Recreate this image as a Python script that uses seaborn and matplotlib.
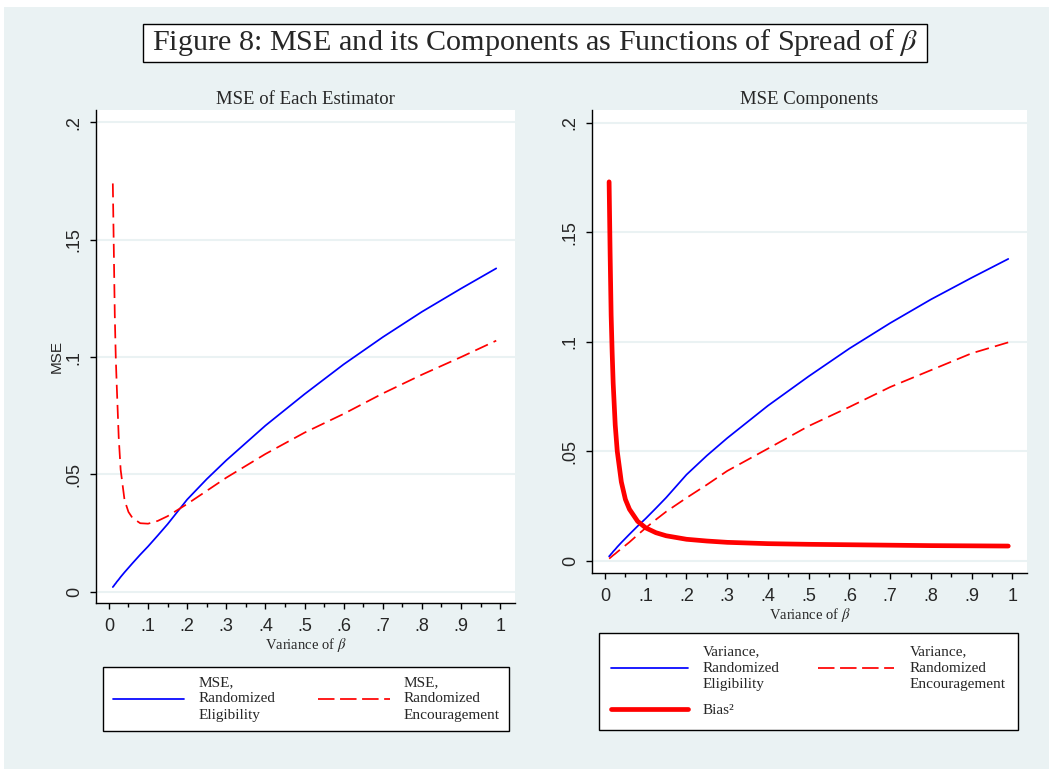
import numpy as np
import pandas as pd
import matplotlib
matplotlib.use("Agg")
import matplotlib.pyplot as plt
import seaborn as sns
from matplotlib.patches import Rectangle
from matplotlib.lines import Line2D

# ---------------- data ----------------
variance_beta = [0.01, 0.0125, 0.015, 0.0175, 0.02, 0.025, 0.03, 0.04, 0.05, 0.06,
                 0.08, 0.10, 0.125, 0.15, 0.20, 0.25, 0.30, 0.40, 0.50, 0.60,
                 0.70, 0.80, 0.90, 0.99]
mse_eligibility = [0.0020, 0.0025, 0.0031, 0.0036, 0.0042, 0.0052, 0.0063, 0.0083, 0.0102, 0.0121,
                   0.0158, 0.0193, 0.0240, 0.0288, 0.0393, 0.0480, 0.0560, 0.0708, 0.0842, 0.0969,
                   0.1085, 0.1193, 0.1292, 0.1378]
mse_encouragement = [0.174, 0.146, 0.118, 0.100, 0.088, 0.066, 0.052, 0.039, 0.034, 0.0315,
                     0.0292, 0.0290, 0.0302, 0.0322, 0.0374, 0.0430, 0.0486, 0.0587, 0.0678, 0.0758,
                     0.0845, 0.0925, 0.1000, 0.1070]
var_eligibility = [0.0020, 0.0025, 0.0031, 0.0036, 0.0042, 0.0052, 0.0063, 0.0083, 0.0102, 0.0121,
                   0.0158, 0.0193, 0.0240, 0.0288, 0.0393, 0.0480, 0.0560, 0.0708, 0.0842, 0.0969,
                   0.1085, 0.1193, 0.1292, 0.1378]
var_encouragement = [0.0010, 0.0013, 0.0017, 0.0021, 0.0025, 0.0032, 0.0040, 0.0055, 0.0070, 0.0085,
                     0.0118, 0.0150, 0.0188, 0.0224, 0.0287, 0.0347, 0.0410, 0.0512, 0.0615, 0.0702,
                     0.0793, 0.0870, 0.0947, 0.0997]
bias_sq = [0.173, 0.140, 0.112, 0.095, 0.081, 0.062, 0.050, 0.036, 0.028, 0.0235,
           0.0180, 0.0150, 0.0128, 0.0114, 0.0098, 0.0090, 0.0084, 0.0078, 0.0075, 0.0073,
           0.0071, 0.0069, 0.0068, 0.0067]

x_ticks = [0, .1, .2, .3, .4, .5, .6, .7, .8, .9, 1]
x_ticklabels = ["0", ".1", ".2", ".3", ".4", ".5", ".6", ".7", ".8", ".9", "1"]
y_ticks = [0, .05, .1, .15, .2]
y_ticklabels = ["0", ".05", ".1", ".15", ".2"]

main_title = "Figure 8: MSE and its Components as Functions of Spread of $\\beta$"
left_title = "MSE of Each Estimator"
right_title = "MSE Components"
x_label = "Variance of $\\beta$"
lab_mse_elig = "MSE,\nRandomized\nEligibility"
lab_mse_enc = "MSE,\nRandomized\nEncouragement"
lab_var_elig = "Variance,\nRandomized\nEligibility"
lab_var_enc = "Variance,\nRandomized\nEncouragement"
lab_bias = "Bias\u00b2"

df = pd.DataFrame({
    "x": variance_beta,
    "mse_elig": mse_eligibility,
    "mse_enc": mse_encouragement,
    "var_elig": var_eligibility,
    "var_enc": var_encouragement,
    "bias": bias_sq,
})

# ---------------- style ----------------
sns.set_theme(style="white")
plt.rcParams["font.family"] = ["Liberation Serif", "DejaVu Serif"]
plt.rcParams["mathtext.fontset"] = "stix"
plt.rcParams["axes.unicode_minus"] = False

BG = "#EAF2F3"
BLUE = "#0000FF"
RED = "#FF0000"
SANS = ["Liberation Sans", "DejaVu Sans"]
SERIF = ["Liberation Serif", "DejaVu Serif"]

W, H = 1049, 769
fig = plt.figure(figsize=(W / 100, H / 100), dpi=100)
fig.patch.set_facecolor("white")
fig.patches.append(Rectangle((4 / W, 0), 1, (H - 7) / H, transform=fig.transFigure,
                             facecolor=BG, edgecolor="none", zorder=-10))

def px_rect(x0, y0, x1, y1):
    return [x0 / W, 1 - y1 / H, (x1 - x0) / W, (y1 - y0) / H]

axL = fig.add_axes(px_rect(96, 110, 515, 603))
axR = fig.add_axes(px_rect(592, 110, 1027, 573))

thin = 1.25
dash = (0, (8.0, 3.6))

sns.lineplot(data=df, x="x", y="mse_elig", ax=axL, color=BLUE, linewidth=thin, legend=False)
sns.lineplot(data=df, x="x", y="mse_enc", ax=axL, color=RED, linewidth=thin, linestyle=dash, legend=False)

sns.lineplot(data=df, x="x", y="var_elig", ax=axR, color=BLUE, linewidth=thin, legend=False)
sns.lineplot(data=df, x="x", y="var_enc", ax=axR, color=RED, linewidth=thin, linestyle=dash, legend=False)
sns.lineplot(data=df, x="x", y="bias", ax=axR, color=RED, linewidth=3.4, legend=False,
             solid_capstyle="round")

for ax, xl, yl in [(axL, (-0.033, 1.038), (-0.0048, 0.2053)),
                   (axR, (-0.032, 1.036), (-0.0056, 0.2058))]:
    ax.set_facecolor("white")
    ax.set_xlim(*xl)
    ax.set_ylim(*yl)
    ax.set_xticks(x_ticks)
    ax.set_xticklabels(x_ticklabels, fontfamily=SANS, fontsize=13)
    ax.set_xticks(np.arange(0.05, 1.0, 0.1), minor=True)
    ax.set_yticks(y_ticks)
    ax.set_yticklabels(y_ticklabels, fontfamily=SANS, fontsize=13, rotation=90, va="center")
    ax.tick_params(axis="both", which="major", direction="out", length=4.5, width=1,
                   color="black", bottom=True, left=True)
    ax.tick_params(axis="x", which="minor", direction="out", length=3, width=1,
                   color="black", bottom=True)
    ax.tick_params(axis="x", which="major", pad=6.5)
    ax.tick_params(axis="y", which="major", pad=5)
    ax.yaxis.grid(True, color=BG, linewidth=1.5)
    ax.xaxis.grid(False)
    ax.set_axisbelow(True)
    for s in ["top", "right"]:
        ax.spines[s].set_visible(False)
    for s in ["left", "bottom"]:
        ax.spines[s].set_color("black")
        ax.spines[s].set_linewidth(1.0)
    ax.set_xlabel(x_label, fontfamily=SERIF, fontsize=10.5, labelpad=0.5)

axL.set_ylabel("MSE", fontfamily=SANS, fontsize=11, labelpad=1.5)
axR.set_ylabel("")
axL.set_title(left_title, fontfamily=SERIF, fontsize=13.5, pad=4)
axR.set_title(right_title, fontfamily=SERIF, fontsize=13.5, pad=4)

# main title in a box
fig.patches.append(Rectangle((143 / W, 1 - 62 / H), (927 - 143) / W, 38 / H,
                             transform=fig.transFigure, facecolor="white",
                             edgecolor="black", linewidth=1.0, zorder=5))
fig.text(535 / W, 1 - 43 / H, main_title, ha="center", va="center",
         fontfamily=SERIF, fontsize=21.7, zorder=6)

# legends
h_blue = Line2D([], [], color=BLUE, linewidth=thin)
h_red = Line2D([], [], color=RED, linewidth=thin, linestyle=(0, (9.5, 3.2)))
h_bias = Line2D([], [], color=RED, linewidth=3.4, solid_capstyle="round")

common = dict(loc="center", frameon=True, fancybox=False, edgecolor="black",
              facecolor="white", framealpha=1, borderaxespad=0,
              prop={"family": SERIF, "size": 11})

legL = fig.legend([h_blue, h_red], [lab_mse_elig, lab_mse_enc], ncol=2,
                  bbox_to_anchor=(306 / W, 1 - 699 / H), bbox_transform=fig.transFigure,
                  handlelength=4.7, handletextpad=0.9, columnspacing=2.8, borderpad=0.6,
                  **common)
legR = fig.legend([h_blue, h_bias, h_red], [lab_var_elig, lab_bias, lab_var_enc], ncol=2,
                  bbox_to_anchor=(808.5 / W, 1 - 681.5 / H), bbox_transform=fig.transFigure,
                  handlelength=5.0, handletextpad=1.0, columnspacing=2.5, borderpad=0.8,
                  labelspacing=0.85, **common)
for leg in (legL, legR):
    leg.get_frame().set_linewidth(1.0)
    for t in leg.get_texts():
        t.set_linespacing(1.3)

fig.savefig("out.png", dpi=100, facecolor=fig.get_facecolor())
